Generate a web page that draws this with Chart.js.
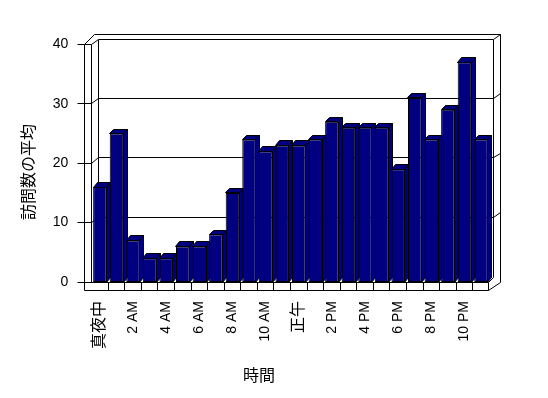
<!DOCTYPE html>
<html><head><meta charset="utf-8">
<script src="https://cdn.jsdelivr.net/npm/chart.js@4"></script>
<style>html,body{margin:0;padding:0;background:#fff}canvas{display:block}</style>
</head><body>
<canvas id="c" width="548" height="398"></canvas>
<script>
const hours = ['真夜中','1 AM','2 AM','3 AM','4 AM','5 AM','6 AM','7 AM','8 AM','9 AM','10 AM','11 AM',
               '正午','1 PM','2 PM','3 PM','4 PM','5 PM','6 PM','7 PM','8 PM','9 PM','10 PM','11 PM'];
const avgVisits = [16,25,7,4,4,6,6,8,15,24,22,23,23,24,27,26,26,26,19,31,24,29,37,24];
const yTicks = [0,10,20,30,40];
const yTitle = '訪問数の平均';
const xTitle = '時間';

const NAVY = '#000080';
const WALL = {dx: 6.5, dy: -5.5};
const BAR = {dx: 4, dy: -4.5};
const LATIN = "'Liberation Sans', 'Noto Sans CJK JP', sans-serif";
const CJK = "'Noto Sans CJK JP', sans-serif";

const r = v => Math.round(v - 0.5) + 0.5;
function line(ctx, pts) {
  ctx.beginPath();
  pts.forEach(([a, b], i) => i ? ctx.lineTo(r(a), r(b)) : ctx.moveTo(r(a), r(b)));
  ctx.stroke();
}

const box3d = {
  id: 'box3d',
  beforeDraw(chart) {
    const ctx = chart.ctx;
    ctx.save(); ctx.fillStyle = '#fff'; ctx.fillRect(0, 0, chart.width, chart.height); ctx.restore();
  },
  beforeDatasetsDraw(chart) {
    const {ctx, chartArea: ca, scales: {y}} = chart;
    const fx = ca.left - 7.5, bl = ca.left + 6.5, br = ca.right + 4.7, ro = ca.right + 11.4;
    const yTop = y.getPixelForValue(yTicks[yTicks.length - 1]);
    const y0 = y.getPixelForValue(0);
    ctx.save();
    ctx.strokeStyle = '#000'; ctx.lineWidth = 1;
    // walls
    line(ctx, [[fx, yTop], [ca.left, yTop], [bl, yTop + WALL.dy], [br, yTop + WALL.dy], [br, y0 + WALL.dy + 1]]);
    line(ctx, [[fx, y0 + 8], [fx, yTop], [fx + 10, yTop - 10.5], [ro, yTop - 10.5], [ro, y0]]);
    line(ctx, [[br, yTop + WALL.dy], [ro, yTop - 10.5]]);
    line(ctx, [[ca.left, yTop], [ca.left, y0]]);
    line(ctx, [[bl, yTop + WALL.dy], [bl, y0 + WALL.dy]]);
    yTicks.forEach(v => {
      const f = y.getPixelForValue(v);
      line(ctx, [[fx - 7, f], [fx, f]]);
      if (v > 0 && v < yTicks[yTicks.length - 1]) {
        line(ctx, [[fx, f], [ca.left, f], [bl, f + WALL.dy], [br, f + WALL.dy], [ro, f + WALL.dy - 4.5]]);
      }
    });
    // bar sides and tops
    const meta = chart.getDatasetMeta(0);
    ctx.fillStyle = NAVY;
    meta.data.forEach(el => {
      const {x, y: top, width, base} = el.getProps(['x', 'y', 'width', 'base'], true);
      const L = x - width / 2, R = x + width / 2;
      const pts1 = [[R, top], [R + BAR.dx, top + BAR.dy], [R + BAR.dx, base + BAR.dy], [R, base]];
      const pts2 = [[L, top], [L + BAR.dx, top + BAR.dy], [R + BAR.dx, top + BAR.dy], [R, top]];
      [pts1, pts2].forEach(p => {
        ctx.beginPath();
        p.forEach(([a, b], i) => i ? ctx.lineTo(r(a), r(b)) : ctx.moveTo(r(a), r(b)));
        ctx.closePath(); ctx.fill(); ctx.stroke();
      });
    });
    ctx.restore();
  },
  afterDatasetsDraw(chart) {
    const {ctx, chartArea: ca, scales: {x, y}} = chart;
    const fx = ca.left - 7.5, br = ca.right + 4.7, ro = ca.right + 11.4, fr = ca.right - 1;
    const y0 = y.getPixelForValue(0);
    ctx.save();
    ctx.strokeStyle = '#000'; ctx.lineWidth = 1;
    line(ctx, [[fx, y0], [fr, y0]]);
    line(ctx, [[fx, y0 + 8], [fr, y0 + 8], [ro, y0]]);
    line(ctx, [[fr, y0], [fr, y0 + 8]]);
    line(ctx, [[fr, y0], [br, y0 - 4.5]]);
    for (let i = 1; i < hours.length; i++) {
      const xb = (x.getPixelForValue(i - 1) + x.getPixelForValue(i)) / 2;
      line(ctx, [[xb, y0], [xb, y0 + 8]]);
    }
    ctx.restore();
  },
  afterDraw(chart) {
    const ctx = chart.ctx;
    ctx.save();
    ctx.fillStyle = '#000';
    ctx.font = "16px " + CJK;
    ctx.textAlign = 'center'; ctx.textBaseline = 'middle';
    ctx.fillText(xTitle, 259, 375);
    ctx.translate(28, 172);
    ctx.rotate(-Math.PI / 2);
    ctx.fillText(yTitle, 0, 0);
    ctx.restore();
  }
};

new Chart(document.getElementById('c'), {
  type: 'bar',
  data: {
    labels: hours,
    datasets: [{
      data: avgVisits,
      backgroundColor: NAVY,
      borderColor: '#000',
      borderWidth: 1,
      borderSkipped: false,
      categoryPercentage: 1,
      barPercentage: 0.815
    }]
  },
  options: {
    responsive: false,
    animation: false,
    devicePixelRatio: 1,
    layout: {padding: {left: 0, right: 58.7, top: 44.5, bottom: 0}},
    plugins: {legend: {display: false}, tooltip: {enabled: false}, title: {display: false}},
    scales: {
      x: {
        offset: true,
        grid: {display: false, drawTicks: false},
        border: {display: false},
        ticks: {
          autoSkip: false, minRotation: 90, maxRotation: 90, padding: 19, color: '#000',
          font: c => ({family: LATIN, size: /[^\x00-\x7f]/.test(hours[c.index] || '') ? 16 : 14}),
          callback: (v, i) => i % 2 === 0 ? hours[i] : ''
        },
        afterFit: s => { s.height = 116; }
      },
      y: {
        min: 0, max: 40,
        grid: {display: false, drawTicks: false},
        border: {display: false},
        ticks: {stepSize: 10, padding: 23.3, color: '#000', font: {family: LATIN, size: 14}},
        afterFit: s => { s.width = 91.6; }
      }
    }
  },
  plugins: [box3d]
});
</script>
</body></html>
